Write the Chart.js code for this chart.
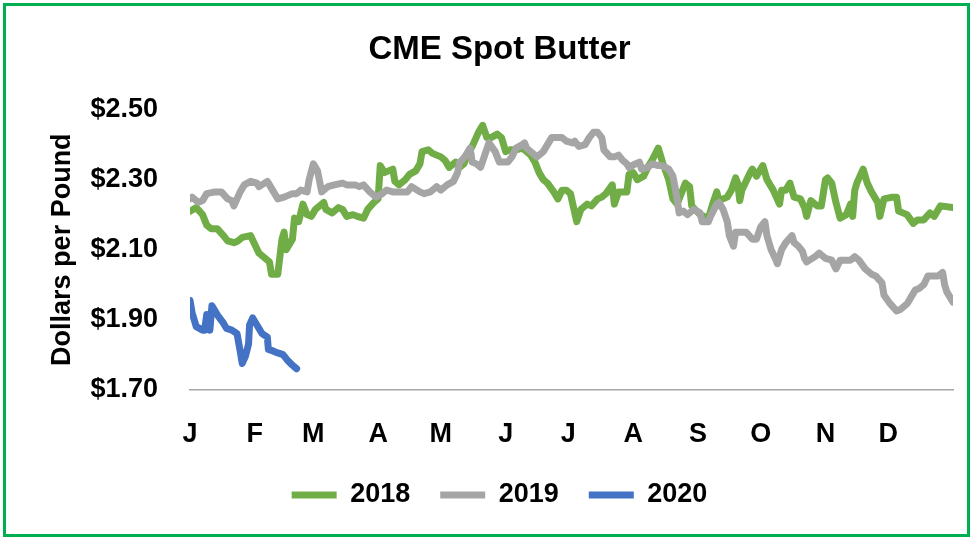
<!DOCTYPE html>
<html>
<head>
<meta charset="utf-8">
<script src="https://cdn.jsdelivr.net/npm/chart.js@4.4.1/dist/chart.umd.min.js"></script>
<style>
  body { margin: 0; background: #fff; }
  .wrap { position: relative; width: 972px; height: 539px; }
  .frame {
    position: absolute; left: 3px; top: 3px; width: 967px; height: 534px;
    box-sizing: border-box; border: 3px solid #00B050; pointer-events: none;
  }
</style>
</head>
<body>
<div class="wrap">
  <canvas id="butterChart" width="972" height="539"></canvas>
  <div class="frame"></div>
</div>
<script>
// month labels sit on the first day of each month (day of year)
const monthStarts = [0, 31, 59, 90, 120, 151, 181, 212, 243, 273, 304, 334];
const monthLabels = ["J", "F", "M", "A", "M", "J", "J", "A", "S", "O", "N", "D"];

// 2018 - day of year / $ per lb
const days2018 = [0,3,6,8,10,13,16,18,21,23,25,29,31,33,36,38,39,42,44,45,46,49,50,52,54,56,58,60,62,64,65,68,71,73,75,78,80,83,85,88,90,91,93,97,98,100,103,105,108,110,111,114,116,120,122,124,127,129,131,133,135,138,140,142,144,147,149,151,153,156,159,163,165,167,169,171,174,176,178,180,182,185,187,190,192,195,197,199,202,203,205,207,209,210,212,214,217,219,221,224,226,229,231,233,237,239,240,244,248,250,252,253,257,259,261,262,263,264,268,269,271,274,276,279,282,283,285,287,289,292,294,295,297,300,302,304,305,307,309,311,314,316,317,318,319,322,324,326,329,330,332,336,338,339,343,346,348,351,354,356,359,365];
const price2018 = [2.21,2.22,2.20,2.17,2.16,2.16,2.14,2.125,2.12,2.125,2.135,2.14,2.115,2.09,2.075,2.065,2.03,2.03,2.13,2.15,2.10,2.13,2.19,2.18,2.23,2.20,2.195,2.215,2.225,2.235,2.215,2.205,2.22,2.215,2.195,2.20,2.195,2.19,2.215,2.235,2.245,2.34,2.32,2.33,2.295,2.285,2.30,2.315,2.325,2.345,2.38,2.385,2.375,2.365,2.355,2.335,2.35,2.335,2.345,2.375,2.395,2.435,2.455,2.42,2.42,2.43,2.42,2.38,2.385,2.385,2.39,2.37,2.35,2.32,2.30,2.29,2.265,2.245,2.27,2.27,2.26,2.18,2.215,2.23,2.225,2.245,2.25,2.26,2.285,2.23,2.265,2.265,2.265,2.315,2.32,2.30,2.31,2.335,2.355,2.39,2.35,2.30,2.245,2.23,2.29,2.28,2.225,2.20,2.19,2.23,2.265,2.24,2.25,2.27,2.305,2.29,2.24,2.27,2.32,2.33,2.31,2.34,2.30,2.27,2.23,2.27,2.27,2.29,2.25,2.245,2.22,2.195,2.24,2.225,2.225,2.30,2.305,2.29,2.235,2.19,2.20,2.23,2.195,2.27,2.29,2.33,2.29,2.265,2.235,2.195,2.245,2.25,2.25,2.21,2.20,2.175,2.185,2.185,2.205,2.195,2.225,2.22];

// 2019
const days2019 = [0,1,4,6,8,12,15,18,20,21,24,26,29,32,33,37,40,42,45,49,51,53,56,57,59,61,63,66,69,73,75,79,81,83,86,89,92,94,97,100,104,106,110,112,115,118,120,123,126,128,129,130,132,134,135,137,139,141,143,146,148,150,152,154,156,159,160,161,164,166,169,171,173,176,178,180,183,184,186,189,191,193,195,197,198,201,203,205,207,209,210,213,215,216,219,221,224,226,229,231,232,233,234,236,238,241,244,245,248,249,252,253,255,257,258,260,261,264,266,269,271,273,275,276,278,280,281,283,285,288,289,291,293,294,295,299,301,304,307,309,311,316,318,320,323,326,328,331,332,335,338,340,343,345,347,349,351,353,355,358,360,361,362,365];
const price2019 = [2.245,2.25,2.235,2.24,2.26,2.265,2.265,2.245,2.24,2.225,2.265,2.285,2.295,2.29,2.28,2.295,2.265,2.245,2.25,2.26,2.26,2.27,2.265,2.30,2.345,2.325,2.265,2.28,2.285,2.29,2.285,2.285,2.28,2.285,2.265,2.25,2.26,2.27,2.265,2.265,2.265,2.28,2.265,2.26,2.265,2.28,2.27,2.285,2.295,2.32,2.35,2.355,2.37,2.39,2.35,2.345,2.335,2.37,2.405,2.38,2.35,2.35,2.35,2.365,2.39,2.40,2.405,2.39,2.375,2.365,2.38,2.40,2.42,2.42,2.42,2.41,2.405,2.41,2.395,2.40,2.42,2.435,2.435,2.42,2.385,2.365,2.365,2.37,2.355,2.345,2.335,2.345,2.35,2.33,2.335,2.345,2.34,2.34,2.33,2.31,2.28,2.245,2.205,2.21,2.20,2.215,2.205,2.18,2.18,2.195,2.23,2.235,2.215,2.18,2.14,2.11,2.15,2.15,2.15,2.13,2.13,2.165,2.18,2.14,2.10,2.075,2.06,2.10,2.12,2.14,2.12,2.11,2.095,2.075,2.065,2.08,2.09,2.075,2.07,2.045,2.07,2.07,2.08,2.07,2.045,2.03,2.025,2.005,1.97,1.945,1.925,1.93,1.945,1.965,1.985,1.99,2.00,2.025,2.025,2.025,2.035,2.00,1.98,1.95];

// 2020 (to late February)
const days2020 = [0,1,3,6,7,8,9.5,10.5,12,13.5,16,17.5,20,22.5,24,25,26.5,28,28.5,30,32,34.5,37,37.5,40,42,44.5,46.5,49,51];
const price2020 = [1.955,1.92,1.88,1.87,1.87,1.915,1.87,1.94,1.925,1.91,1.89,1.875,1.87,1.86,1.81,1.775,1.795,1.83,1.885,1.905,1.885,1.86,1.85,1.815,1.81,1.805,1.80,1.785,1.77,1.76];

const yTicks = [1.70, 1.90, 2.10, 2.30, 2.50];

const toPoints = (days, prices) => days.map((d, i) => ({ x: d, y: prices[i] }));

Chart.defaults.font.family = "'Liberation Sans', Arial, sans-serif";
Chart.defaults.font.weight = 'bold';
Chart.defaults.color = '#000';

const lineStyle = {
    borderWidth: 7,
    pointRadius: 0,
    tension: 0,
    borderJoinStyle: 'round',
    borderCapStyle: 'round',
    fill: false
};

new Chart(document.getElementById("butterChart"), {
    type: 'line',
    data: {
        datasets: [
            { label: '2018', data: toPoints(days2018, price2018), borderColor: '#70AD47', backgroundColor: '#70AD47', order: 3, ...lineStyle },
            { label: '2019', data: toPoints(days2019, price2019), borderColor: '#A5A5A5', backgroundColor: '#A5A5A5', order: 2, ...lineStyle },
            { label: '2020', data: toPoints(days2020, price2020), borderColor: '#4472C4', backgroundColor: '#4472C4', order: 1, ...lineStyle }
        ]
    },
    options: {
        responsive: false,
        animation: false,
        devicePixelRatio: 1,
        layout: { padding: { left: 46, right: 19, top: 0, bottom: 20.5 } },
        plugins: {
            tooltip: { enabled: false },
            title: {
                display: true,
                text: 'CME Spot Butter',
                font: { size: 33, weight: 'bold' },
                padding: { top: 30, bottom: 40 }
            },
            legend: {
                position: 'bottom',
                labels: {
                    usePointStyle: true,
                    pointStyle: 'line',
                    pointStyleWidth: 45, // length of the legend line
                    padding: 30,
                    font: { size: 27, weight: 'bold' },
                    sort: (a, b) => a.datasetIndex - b.datasetIndex // keep 2018, 2019, 2020 order
                }
            }
        },
        scales: {
            x: {
                type: 'linear',
                min: 0,
                max: 365,
                afterBuildTicks: (scale) => { scale.ticks = monthStarts.map(v => ({ value: v })); },
                afterFit: (scale) => { scale.height = 61.8; },
                grid: { display: false, drawTicks: false },
                border: { display: true, color: '#A6A6A6', width: 1.5 },
                ticks: {
                    autoSkip: false,
                    maxRotation: 0,
                    padding: 29,
                    font: { size: 27, weight: 'bold' },
                    callback: (value, index) => monthLabels[index]
                }
            },
            y: {
                min: 1.70,
                max: 2.50,
                afterBuildTicks: (scale) => { scale.ticks = yTicks.map(v => ({ value: v })); },
                afterFit: (scale) => { scale.width = 144; },
                grid: { display: false, drawTicks: false },
                border: { display: false },
                ticks: {
                    padding: 32,
                    font: { size: 27, weight: 'bold' },
                    callback: (value) => '$' + Number(value).toFixed(2)
                },
                title: {
                    display: true,
                    text: 'Dollars per Pound',
                    padding: 0,
                    font: { size: 27, weight: 'bold' }
                }
            }
        }
    }
});
</script>
</body>
</html>
